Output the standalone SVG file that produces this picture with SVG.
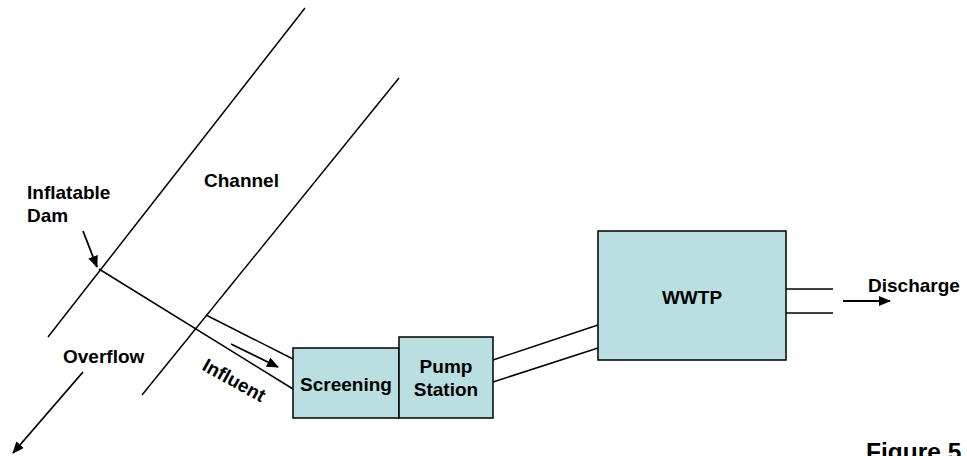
<svg xmlns="http://www.w3.org/2000/svg" width="967" height="456" viewBox="0 0 967 456">
<style>
.ln{stroke:#000;stroke-width:1.5;fill:none}
.ar{stroke:#000;stroke-width:1.8;fill:none;marker-end:url(#ah)}
.box{fill:#b9dfe1;stroke:#000;stroke-width:1.5}
.t{font-family:"Liberation Sans",Arial,sans-serif;font-weight:bold;font-size:19px;fill:#000}
</style>
<defs>
<marker id="ah" markerWidth="12" markerHeight="10" refX="11" refY="5" orient="auto" markerUnits="userSpaceOnUse">
<path d="M0,0 L12,5 L0,10 Z" fill="#000"/>
</marker>
</defs>
<rect width="967" height="456" fill="#fff"/>
<g id="connectors">
<line class="ln" x1="305" y1="8" x2="48" y2="337"/>
<line class="ln" x1="399" y1="78" x2="142" y2="395"/>
<line class="ln" x1="99" y1="269" x2="293" y2="389"/>
<line class="ln" x1="206" y1="315" x2="293" y2="359"/>
<line class="ln" x1="493" y1="360" x2="598" y2="325"/>
<line class="ln" x1="493" y1="382" x2="598" y2="348"/>
<line class="ln" x1="786" y1="289" x2="833" y2="289"/>
<line class="ln" x1="786" y1="313" x2="833" y2="313"/>
<line class="ar" x1="83" y1="231" x2="97" y2="267"/>
<line class="ar" x1="83" y1="372" x2="13" y2="453"/>
<line class="ar" x1="231" y1="344" x2="278" y2="367"/>
<line class="ar" x1="843" y1="301" x2="890" y2="301"/>
</g>
<g id="screening">
<rect class="box" x="293" y="348" width="106" height="70"/>
<text class="t" x="346" y="391" text-anchor="middle">Screening</text>
</g>
<g id="pump-station">
<rect class="box" x="399" y="337" width="94" height="81"/>
<text class="t" x="446" y="373" text-anchor="middle">Pump</text>
<text class="t" x="446" y="396" text-anchor="middle">Station</text>
</g>
<g id="wwtp">
<rect class="box" x="598" y="231" width="188" height="129"/>
<text class="t" x="692" y="304" text-anchor="middle">WWTP</text>
</g>
<g id="labels">
<text class="t" x="27" y="199">Inflatable</text>
<text class="t" x="27" y="222">Dam</text>
<text class="t" x="204" y="187">Channel</text>
<text class="t" x="63" y="363">Overflow</text>
<text class="t" text-anchor="middle" transform="translate(231,386) rotate(29)">Influent</text>
<text class="t" x="868" y="292">Discharge</text>
<text class="t" x="866" y="460" style="font-size:24.5px">Figure 5</text>
</g>
</svg>
